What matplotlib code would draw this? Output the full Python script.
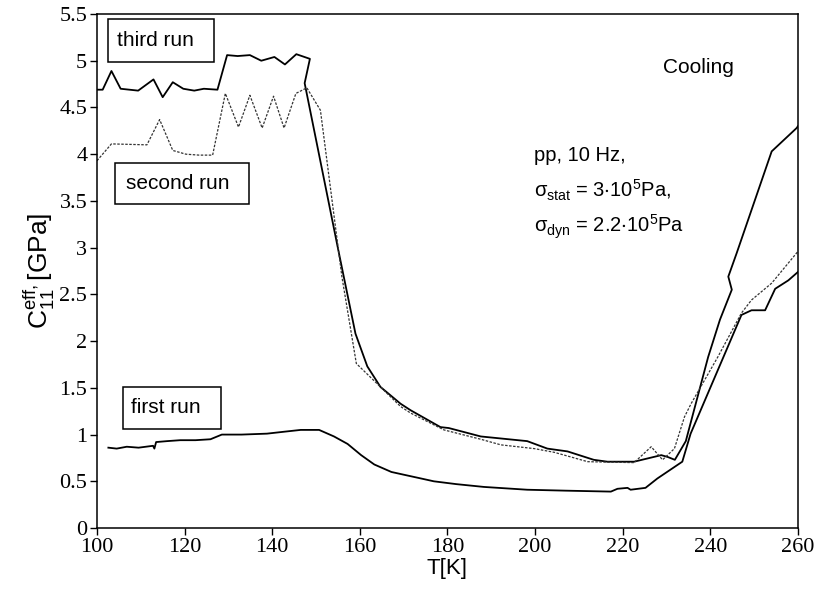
import matplotlib
matplotlib.use("Agg")
import matplotlib.pyplot as plt
from matplotlib.patches import Rectangle

plt.rcParams["mathtext.fontset"] = "custom"
plt.rcParams["mathtext.rm"] = "Liberation Sans"
plt.rcParams["mathtext.it"] = "Liberation Sans:italic"
plt.rcParams["mathtext.default"] = "regular"

# ---- data ----
first_T = [102.6, 104.5, 106.8, 109.5, 112.8, 113.1, 113.5, 116.0, 119.0, 122.5, 125.9,
           128.5, 133.0, 138.8, 142.6, 146.5, 150.7, 154.1, 157.2, 160.3, 163.3,
           167.2, 170.1, 174.0, 176.9, 182.0, 188.3, 198.2, 207.0, 217.3, 218.8,
           221.1, 221.8, 225.2, 227.9, 233.6, 235.5, 247.1, 249.4, 252.5, 254.8,
           257.8, 260.0]
first_C = [0.86, 0.85, 0.87, 0.86, 0.88, 0.85, 0.92, 0.93, 0.94, 0.94, 0.95,
           1.00, 1.00, 1.01, 1.03, 1.05, 1.05, 0.98, 0.90, 0.78, 0.68,
           0.60, 0.57, 0.53, 0.50, 0.47, 0.44, 0.41, 0.40, 0.39, 0.42,
           0.43, 0.41, 0.43, 0.53, 0.71, 1.01, 2.28, 2.33, 2.33, 2.56,
           2.65, 2.74]

second_T = [100.0, 103.3, 111.4, 114.3, 117.3, 120.3, 123.3, 126.4, 129.3, 132.3,
            134.9, 137.7, 140.3, 142.7, 145.4, 147.9, 151.0, 155.9, 159.2, 164.7,
            169.3, 171.6, 179.2, 187.6, 192.2, 199.8, 204.4, 212.0, 222.6, 226.5,
            229.1, 231.8, 234.1, 235.6, 241.7, 247.1, 249.4, 254.0, 260.0]
second_C = [3.93, 4.11, 4.10, 4.37, 4.04, 4.00, 3.99, 3.99, 4.65, 4.29,
            4.63, 4.28, 4.62, 4.28, 4.65, 4.71, 4.47, 2.69, 1.76, 1.51,
            1.30, 1.23, 1.05, 0.95, 0.89, 0.85, 0.81, 0.71, 0.70, 0.87,
            0.73, 0.85, 1.19, 1.33, 1.83, 2.30, 2.44, 2.62, 2.96]

third_T = [100.0, 101.3, 103.3, 105.4, 109.4, 112.9, 115.0, 117.3, 119.7, 122.2,
           124.4, 127.5, 129.7, 132.1, 134.9, 137.5, 140.5, 142.9, 145.5, 148.6,
           147.4, 155.1, 159.0, 161.7, 164.7, 169.3, 171.6, 178.4, 180.3, 187.6,
           198.2, 202.8, 207.4, 213.4, 216.5, 222.6, 228.8, 230.3, 231.9, 234.4,
           239.5, 242.2, 244.9, 244.1, 246.0, 254.0, 259.7, 260.0]
third_C = [4.69, 4.69, 4.89, 4.70, 4.68, 4.80, 4.61, 4.77, 4.70, 4.68,
           4.70, 4.69, 5.06, 5.05, 5.06, 5.00, 5.04, 4.96, 5.07, 5.02,
           4.76, 2.97, 2.08, 1.73, 1.51, 1.33, 1.26, 1.08, 1.07, 0.98,
           0.93, 0.85, 0.82, 0.73, 0.71, 0.71, 0.78, 0.76, 0.73, 0.93,
           1.83, 2.23, 2.55, 2.69, 2.94, 4.03, 4.28, 4.30]

x_ticks = [100, 120, 140, 160, 180, 200, 220, 240, 260]
y_ticks = [0, 0.5, 1, 1.5, 2, 2.5, 3, 3.5, 4, 4.5, 5, 5.5]
y_ticklabels = ["0", "0.5", "1", "1.5", "2", "2.5", "3", "3.5", "4", "4.5", "5", "5.5"]

run_boxes = [("third run", 102.6, 4.99, 24.0, 0.46),
             ("second run", 104.2, 3.47, 30.4, 0.44),
             ("first run", 106.0, 1.06, 22.2, 0.45)]

sans = ["Liberation Sans", "DejaVu Sans"]
serif = ["Liberation Serif", "DejaVu Serif"]

fig = plt.figure(figsize=(8.17, 5.90), dpi=100)
ax = fig.add_axes([0.1187, 0.105, 0.858, 0.8713])

ax.plot(first_T, first_C, color="black", lw=1.3)
ax.plot(third_T, third_C, color="black", lw=1.3)
ax.plot(second_T, second_C, color="#333333", lw=0.9, linestyle=(0, (2, 1.2)))

ax.set_xlim(100, 260)
ax.set_ylim(0, 5.5)
ax.set_xticks(x_ticks)
ax.set_yticks(y_ticks)
ax.set_yticklabels(y_ticklabels)
ax.tick_params(direction="out", length=5, width=1, labelsize=16, pad=2)
for lab in ax.get_xticklabels() + ax.get_yticklabels():
    lab.set_fontfamily(serif)
for sp in ax.spines.values():
    sp.set_linewidth(1.1)

ax.set_xlabel("T[K]", fontsize=16, family=sans, labelpad=1)
ax.set_ylabel(r"C$_{11}^{eff,}$[GPa]", fontsize=19, family=sans, labelpad=2)

for label, x0, y0, w, h in run_boxes:
    ax.add_patch(Rectangle((x0, y0), w, h, fill=False, lw=1.1, ec="black"))
    ax.text(x0 + w * 0.08, y0 + h / 2, label, fontsize=15, family=sans,
            va="center", ha="left")

ax.text(229.2, 4.93, "Cooling", fontsize=15, family=sans, va="center", ha="left")
ax.text(199.7, 3.99, "pp, 10 Hz,", fontsize=14.5, family=sans, va="center", ha="left")
ax.text(199.7, 3.61, r"$\sigma_{stat}$ = 3$\cdot$10$^5$Pa,", fontsize=14.5,
        family=sans, va="center", ha="left")
ax.text(199.7, 3.22, r"$\sigma_{dyn}$ = 2.2$\cdot$10$^5$Pa", fontsize=14.5,
        family=sans, va="center", ha="left")

fig.savefig("out.png", dpi=100)
